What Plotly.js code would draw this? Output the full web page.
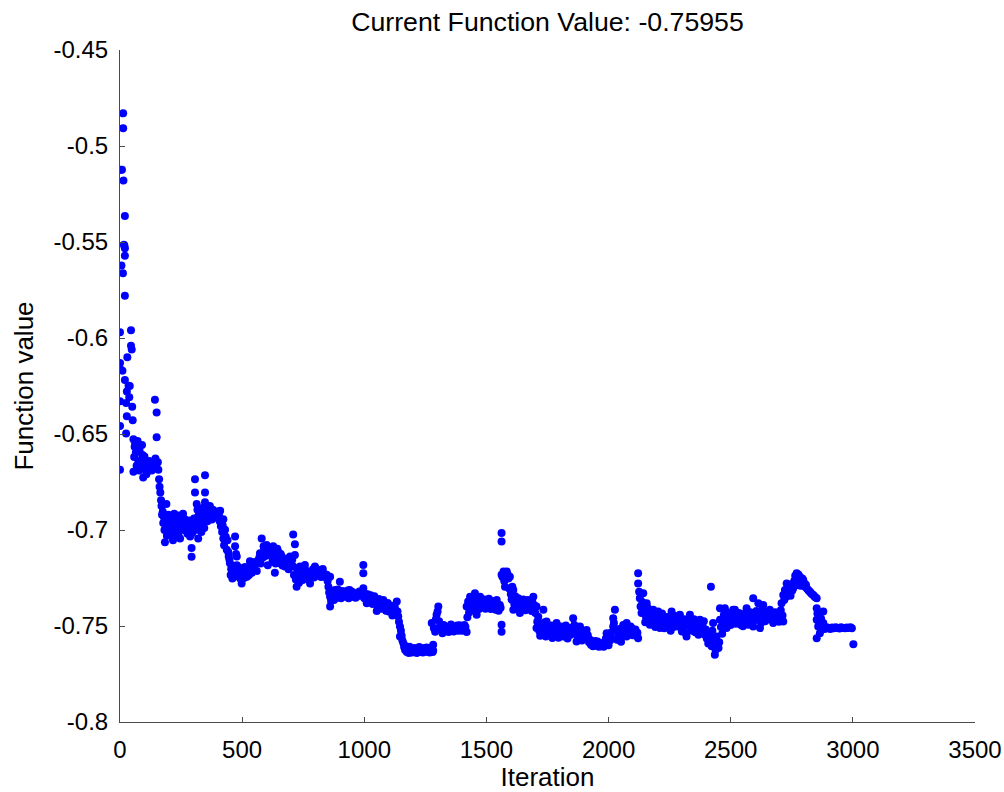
<!DOCTYPE html>
<html>
<head>
<meta charset="utf-8">
<script src="https://cdn.plot.ly/plotly-3.0.1.min.js"></script>
<style>
  html, body { margin: 0; padding: 0; background: #fff; }
  #chart { width: 1004px; height: 792px; }
</style>
</head>
<body>
<div id="chart"></div>
<script>
// Optimizer trace: objective value recorded at each iteration.
// Both arrays are laid out ten samples per row so rows line up one to one.
const iterations = [
  0, 0, 0, 0, 0, 0, 3, 6, 8, 10,
  12, 13, 13, 14, 16, 18, 20, 20, 20, 20,
  20, 25, 25, 28, 28, 30, 35, 38, 40, 45,
  45, 48, 50, 52, 55, 55, 58, 60, 62, 65,
  68, 72, 75, 78, 80, 85, 88, 90, 92, 95,
  98, 100, 103, 105, 108, 110, 113, 116, 120, 125,
  130, 136, 140, 143, 145, 150, 150, 155, 157, 160,
  162, 165, 168, 170, 172, 175, 177, 180, 182, 184,
  186, 190, 192, 195, 198, 200, 203, 205, 208, 210,
  213, 217, 220, 222, 225, 228, 232, 235, 238, 240,
  243, 246, 250, 253, 258, 262, 265, 268, 273, 276,
  280, 283, 287, 290, 293, 293, 296, 300, 303, 307,
  307, 310, 314, 314, 317, 320, 320, 324, 327, 330,
  333, 335, 338, 340, 343, 345, 348, 348, 348, 351,
  355, 358, 362, 365, 368, 372, 376, 380, 384, 388,
  392, 396, 400, 405, 408, 410, 413, 415, 418, 420,
  423, 423, 426, 430, 433, 437, 440, 443, 445, 448,
  450, 453, 455, 458, 460, 463, 465, 468, 471, 471,
  475, 478, 478, 482, 485, 488, 490, 494, 498, 502,
  505, 508, 512, 516, 520, 524, 528, 532, 536, 540,
  545, 550, 555, 560, 565, 570, 573, 576, 580, 585,
  588, 590, 595, 600, 603, 605, 610, 615, 620, 624,
  627, 630, 634, 637, 640, 644, 648, 652, 655, 658,
  662, 665, 670, 675, 680, 685, 690, 696, 700, 705,
  709, 709, 712, 716, 716, 720, 723, 726, 730, 733,
  737, 741, 745, 748, 750, 754, 757, 761, 765, 770,
  774, 778, 782, 785, 790, 794, 798, 802, 805, 810,
  815, 819, 823, 827, 830, 835, 840, 846, 850, 853,
  856, 860, 860, 860, 864, 868, 872, 876, 880, 884,
  888, 892, 896, 900, 900, 905, 910, 915, 920, 925,
  928, 932, 936, 940, 945, 950, 955, 960, 965, 970,
  975, 980, 984, 988, 992, 996, 996, 996, 1000, 1005,
  1010, 1014, 1018, 1022, 1026, 1030, 1034, 1037, 1041, 1045,
  1048, 1051, 1055, 1060, 1065, 1070, 1074, 1078, 1082, 1085,
  1089, 1092, 1096, 1100, 1105, 1110, 1115, 1119, 1122, 1125,
  1129, 1133, 1136, 1139, 1142, 1146, 1146, 1150, 1153, 1156,
  1160, 1163, 1167, 1170, 1174, 1178, 1182, 1185, 1190, 1195,
  1200, 1205, 1210, 1215, 1220, 1225, 1230, 1235, 1240, 1245,
  1250, 1255, 1260, 1264, 1268, 1272, 1276, 1280, 1282, 1282,
  1276, 1285, 1290, 1293, 1296, 1300, 1303, 1306, 1310, 1315,
  1320, 1325, 1330, 1335, 1340, 1345, 1350, 1355, 1360, 1366,
  1370, 1375, 1380, 1385, 1390, 1396, 1400, 1405, 1410, 1414,
  1419, 1419, 1422, 1425, 1429, 1433, 1437, 1440, 1444, 1448,
  1453, 1456, 1460, 1463, 1466, 1470, 1474, 1477, 1480, 1484,
  1487, 1492, 1496, 1500, 1505, 1510, 1514, 1518, 1522, 1525,
  1530, 1534, 1538, 1542, 1546, 1550, 1555, 1558, 1562, 1562,
  1562, 1562, 1562, 1566, 1570, 1573, 1576, 1580, 1583, 1586,
  1590, 1593, 1596, 1600, 1603, 1606, 1610, 1610, 1614, 1618,
  1622, 1625, 1630, 1634, 1637, 1641, 1645, 1651, 1655, 1660,
  1665, 1670, 1675, 1680, 1685, 1688, 1692, 1696, 1700, 1705,
  1705, 1708, 1712, 1716, 1720, 1724, 1728, 1733, 1736, 1740,
  1743, 1746, 1750, 1755, 1760, 1765, 1770, 1775, 1780, 1784,
  1787, 1791, 1795, 1800, 1805, 1810, 1815, 1820, 1825, 1828,
  1832, 1836, 1840, 1845, 1850, 1855, 1860, 1865, 1869, 1874,
  1878, 1883, 1887, 1891, 1895, 1900, 1905, 1910, 1915, 1920,
  1924, 1928, 1932, 1936, 1940, 1945, 1950, 1955, 1960, 1965,
  1970, 1975, 1980, 1985, 1989, 1992, 1996, 2000, 2003, 2006,
  2010, 2014, 2019, 2019, 2022, 2026, 2030, 2035, 2040, 2044,
  2047, 2051, 2055, 2060, 2065, 2070, 2074, 2074, 2078, 2082,
  2085, 2090, 2094, 2098, 2102, 2105, 2110, 2114, 2118, 2121,
  2121, 2121, 2125, 2128, 2131, 2135, 2138, 2142, 2146, 2150,
  2153, 2156, 2160, 2165, 2169, 2172, 2175, 2179, 2183, 2187,
  2191, 2195, 2199, 2203, 2206, 2210, 2215, 2219, 2223, 2228,
  2232, 2235, 2240, 2245, 2250, 2254, 2258, 2262, 2266, 2270,
  2275, 2280, 2284, 2288, 2292, 2296, 2300, 2305, 2310, 2315,
  2319, 2323, 2328, 2333, 2337, 2341, 2345, 2350, 2355, 2360,
  2364, 2368, 2374, 2378, 2382, 2385, 2390, 2394, 2398, 2402,
  2405, 2408, 2412, 2415, 2419, 2422, 2425, 2428, 2432, 2435,
  2435, 2438, 2442, 2446, 2450, 2453, 2456, 2456, 2460, 2465,
  2468, 2472, 2476, 2480, 2483, 2487, 2491, 2495, 2500, 2505,
  2510, 2514, 2517, 2521, 2525, 2530, 2534, 2538, 2542, 2546,
  2550, 2554, 2558, 2562, 2565, 2569, 2572, 2576, 2580, 2585,
  2588, 2592, 2592, 2596, 2600, 2605, 2609, 2613, 2617, 2620,
  2624, 2628, 2633, 2637, 2641, 2645, 2650, 2655, 2660, 2665,
  2670, 2674, 2678, 2682, 2685, 2690, 2694, 2698, 2702, 2705,
  2708, 2712, 2715, 2715, 2719, 2722, 2725, 2729, 2732, 2735,
  2739, 2742, 2745, 2749, 2752, 2756, 2760, 2764, 2767, 2770,
  2774, 2777, 2780, 2783, 2786, 2790, 2793, 2797, 2800, 2804,
  2808, 2812, 2817, 2821, 2825, 2829, 2833, 2838, 2842, 2846,
  2852, 2852, 2852, 2852, 2855, 2858, 2862, 2865, 2865, 2870,
  2875, 2879, 2879, 2885, 2893, 2900, 2908, 2915, 2922, 2930,
  2938, 2945, 2952, 2960, 2968, 2975, 2982, 2990, 2996, 3002
];

const functionValues = [
  -0.6686, -0.6458, -0.6329, -0.616, -0.613, -0.597, -0.5124, -0.5623, -0.5124, -0.617,
  -0.5663, -0.483, -0.4907, -0.518, -0.5514, -0.552, -0.5365, -0.5571, -0.578, -0.5533,
  -0.6219, -0.6497, -0.6338, -0.6279, -0.6408, -0.61, -0.6249, -0.6308, -0.625, -0.596,
  -0.604, -0.606, -0.6358, -0.6428, -0.6527, -0.6696, -0.662, -0.6567, -0.655, -0.6597,
  -0.6666, -0.6537, -0.664, -0.669, -0.6587, -0.6636, -0.667, -0.6557, -0.661, -0.6726,
  -0.668, -0.6617, -0.665, -0.6686, -0.671, -0.6656, -0.666, -0.6686, -0.664, -0.6666,
  -0.669, -0.6656, -0.666, -0.6322, -0.6627, -0.6388, -0.6517, -0.6647, -0.6686, -0.6736,
  -0.6775, -0.6805, -0.6845, -0.6875, -0.692, -0.6904, -0.6964, -0.6934, -0.700, -0.7064,
  -0.695, -0.6865, -0.703, -0.6995, -0.692, -0.6954, -0.699, -0.7014, -0.6935, -0.6974,
  -0.702, -0.7054, -0.6955, -0.6915, -0.6994, -0.7035, -0.6954, -0.7005, -0.6925, -0.7014,
  -0.697, -0.7044, -0.6985, -0.694, -0.6915, -0.700, -0.6944, -0.6985, -0.6964, -0.702,
  -0.6984, -0.695, -0.7034, -0.699, -0.7094, -0.7139, -0.7015, -0.6974, -0.694, -0.6736,
  -0.6805, -0.697, -0.6865, -0.6999, -0.6895, -0.6929, -0.7044, -0.698, -0.6964, -0.6905,
  -0.701, -0.6924, -0.6965, -0.6884, -0.694, -0.699, -0.6715, -0.6805, -0.6855, -0.690,
  -0.6914, -0.6955, -0.689, -0.693, -0.6875, -0.6915, -0.6945, -0.6895, -0.693, -0.6905,
  -0.6935, -0.6904, -0.6925, -0.6925, -0.6955, -0.69, -0.698, -0.6954, -0.701, -0.6975,
  -0.6944, -0.7044, -0.708, -0.6999, -0.7035, -0.7103, -0.7054, -0.7115, -0.7138, -0.7155,
  -0.7173, -0.7235, -0.7203, -0.7185, -0.7253, -0.7205, -0.7223, -0.719, -0.7034, -0.7084,
  -0.7125, -0.7138, -0.7183, -0.7215, -0.7243, -0.7195, -0.7203, -0.7255, -0.7278, -0.722,
  -0.7223, -0.725, -0.7193, -0.7225, -0.7243, -0.7205, -0.7235, -0.7163, -0.7195, -0.7223,
  -0.7185, -0.7193, -0.7165, -0.7213, -0.716, -0.7145, -0.7121, -0.7175, -0.7044, -0.7143,
  -0.7085, -0.7103, -0.7135, -0.7078, -0.7115, -0.7183, -0.711, -0.7133, -0.7095, -0.7165,
  -0.7084, -0.7125, -0.7223, -0.7175, -0.7143, -0.7098, -0.7113, -0.715, -0.7173, -0.7125,
  -0.7138, -0.7185, -0.716, -0.719, -0.715, -0.7163, -0.7205, -0.7138, -0.7175, -0.7155,
  -0.7024, -0.719, -0.7235, -0.7074, -0.713, -0.7258, -0.7295, -0.7205, -0.7243, -0.7275,
  -0.719, -0.7225, -0.7203, -0.726, -0.7225, -0.7245, -0.7182, -0.7235, -0.7213, -0.7255,
  -0.722, -0.7278, -0.7245, -0.7223, -0.7205, -0.7248, -0.719, -0.7228, -0.7203, -0.7238,
  -0.7215, -0.7225, -0.7245, -0.7218, -0.7203, -0.7228, -0.7245, -0.7233, -0.7265, -0.7295,
  -0.7325, -0.7243, -0.7348, -0.7399, -0.737, -0.7323, -0.7345, -0.7365, -0.7313, -0.7338,
  -0.7353, -0.731, -0.7338, -0.7269, -0.733, -0.7355, -0.7318, -0.7343, -0.7325, -0.7348,
  -0.733, -0.7315, -0.7355, -0.7313, -0.7338, -0.7322, -0.733, -0.735, -0.7353, -0.7328,
  -0.7342, -0.732, -0.733, -0.7343, -0.7335, -0.7182, -0.7225, -0.7304, -0.7355, -0.7333,
  -0.7382, -0.7335, -0.7348, -0.7375, -0.734, -0.7353, -0.7385, -0.7364, -0.7345, -0.7382,
  -0.7365, -0.7422, -0.7398, -0.736, -0.7372, -0.741, -0.7385, -0.7364, -0.7405, -0.7382,
  -0.742, -0.7399, -0.738, -0.7425, -0.7412, -0.7395, -0.7445, -0.7434, -0.7415, -0.7402,
  -0.7438, -0.7372, -0.7425, -0.7451, -0.7478, -0.7503, -0.7555, -0.7525, -0.7551, -0.7575,
  -0.759, -0.761, -0.7625, -0.7605, -0.7635, -0.762, -0.764, -0.7608, -0.7628, -0.7638,
  -0.762, -0.7615, -0.7632, -0.764, -0.7622, -0.761, -0.7636, -0.7625, -0.7638, -0.7615,
  -0.763, -0.7612, -0.7635, -0.7622, -0.7638, -0.763, -0.7615, -0.7635, -0.7628, -0.7598,
  -0.7485, -0.7512, -0.753, -0.7465, -0.7442, -0.7425, -0.7399, -0.7475, -0.7501, -0.7518,
  -0.7538, -0.7495, -0.7511, -0.7525, -0.7505, -0.7531, -0.7515, -0.7492, -0.7506, -0.7528,
  -0.7508, -0.7521, -0.7498, -0.7525, -0.7496, -0.751, -0.7525, -0.7516, -0.7495, -0.7505,
  -0.7399, -0.7531, -0.7455, -0.7372, -0.743, -0.7348, -0.7385, -0.7402, -0.7358, -0.7415,
  -0.733, -0.7375, -0.7442, -0.7352, -0.7382, -0.7412, -0.7348, -0.7395, -0.7392, -0.7365,
  -0.739, -0.7362, -0.741, -0.7372, -0.7395, -0.7358, -0.7382, -0.7412, -0.737, -0.7402,
  -0.7377, -0.7395, -0.7415, -0.7364, -0.7385, -0.742, -0.739, -0.7405, -0.7016, -0.706,
  -0.7233, -0.7494, -0.753, -0.7245, -0.7216, -0.7265, -0.7295, -0.724, -0.7216, -0.7228,
  -0.7253, -0.7305, -0.7243, -0.7335, -0.7362, -0.7295, -0.7313, -0.7416, -0.7385, -0.7345,
  -0.7405, -0.7372, -0.7355, -0.7398, -0.7432, -0.739, -0.7368, -0.7362, -0.7395, -0.7418,
  -0.7392, -0.7365, -0.7405, -0.7382, -0.7422, -0.7375, -0.7348, -0.7392, -0.7432, -0.7399,
  -0.7511, -0.7478, -0.7452, -0.7525, -0.7551, -0.749, -0.7535, -0.7416, -0.7482, -0.7521,
  -0.7555, -0.7477, -0.7508, -0.7532, -0.7541, -0.7498, -0.7562, -0.7501, -0.7528, -0.7548,
  -0.7485, -0.7515, -0.7561, -0.7532, -0.7502, -0.7521, -0.7555, -0.7525, -0.7498, -0.7541,
  -0.7565, -0.7518, -0.7511, -0.7545, -0.7528, -0.746, -0.7495, -0.7535, -0.7581, -0.7552,
  -0.7515, -0.7503, -0.7542, -0.7575, -0.7551, -0.7528, -0.7562, -0.7521, -0.7548, -0.7585,
  -0.7571, -0.7598, -0.7585, -0.7605, -0.7596, -0.7578, -0.7602, -0.7581, -0.7608, -0.7592,
  -0.7605, -0.7588, -0.7608, -0.7591, -0.7565, -0.7538, -0.7582, -0.76, -0.7555, -0.7576,
  -0.7535, -0.7565, -0.7503, -0.746, -0.7485, -0.7416, -0.7522, -0.7571, -0.754, -0.7515,
  -0.7555, -0.7582, -0.7521, -0.7495, -0.7551, -0.7525, -0.7485, -0.7555, -0.7512, -0.7538,
  -0.7531, -0.7502, -0.7511, -0.7548, -0.7525, -0.7541, -0.7518, -0.7552, -0.7535, -0.7564,
  -0.7225, -0.7278, -0.7322, -0.7355, -0.7398, -0.7432, -0.7375, -0.733, -0.7415, -0.7481,
  -0.7452, -0.7382, -0.7405, -0.7438, -0.7494, -0.7465, -0.7442, -0.7475, -0.7416, -0.7448,
  -0.7505, -0.7471, -0.7438, -0.7425, -0.7482, -0.7511, -0.7468, -0.7435, -0.7471, -0.7512,
  -0.7485, -0.7501, -0.7455, -0.7452, -0.7495, -0.7525, -0.7425, -0.7468, -0.7505, -0.7491,
  -0.7448, -0.7461, -0.7502, -0.7475, -0.7442, -0.7488, -0.7528, -0.7511, -0.7465, -0.7535,
  -0.7555, -0.7498, -0.747, -0.7442, -0.7485, -0.7525, -0.7491, -0.7465, -0.7532, -0.7511,
  -0.7478, -0.7545, -0.7467, -0.7495, -0.7525, -0.7501, -0.7475, -0.7546, -0.7518, -0.7565,
  -0.7535, -0.7591, -0.7575, -0.7552, -0.7295, -0.7605, -0.7525, -0.7485, -0.7572, -0.7591,
  -0.765, -0.7625, -0.7555, -0.7612, -0.7615, -0.7585, -0.7408, -0.7468, -0.7505, -0.7541,
  -0.7475, -0.7442, -0.7408, -0.7458, -0.7511, -0.7485, -0.7432, -0.7461, -0.7495, -0.7448,
  -0.7416, -0.7465, -0.7416, -0.7488, -0.7452, -0.7471, -0.7432, -0.7452, -0.7495, -0.7465,
  -0.7501, -0.7472, -0.7435, -0.7455, -0.7408, -0.7448, -0.7494, -0.7465, -0.7428, -0.7452,
  -0.7485, -0.7355, -0.7503, -0.7472, -0.7435, -0.7422, -0.7465, -0.7382, -0.7445, -0.7511,
  -0.7485, -0.7415, -0.739, -0.7432, -0.7475, -0.7461, -0.7425, -0.7452, -0.7416, -0.7468,
  -0.7445, -0.7485, -0.7462, -0.7428, -0.7432, -0.7465, -0.7442, -0.7478, -0.7455, -0.7418,
  -0.7381, -0.7445, -0.7477, -0.7338, -0.7365, -0.7312, -0.735, -0.7278, -0.7305, -0.732,
  -0.7295, -0.7325, -0.7343, -0.7282, -0.7315, -0.7303, -0.7265, -0.7238, -0.7288, -0.7225,
  -0.7255, -0.7232, -0.7272, -0.7243, -0.729, -0.7283, -0.7252, -0.726, -0.7275, -0.7295,
  -0.7285, -0.7305, -0.7313, -0.7318, -0.7323, -0.733, -0.7335, -0.7338, -0.7345, -0.735,
  -0.7355, -0.7408, -0.7468, -0.7564, -0.7435, -0.7503, -0.748, -0.7434, -0.7538, -0.7462,
  -0.7498, -0.7425, -0.7485, -0.7515, -0.7506, -0.7512, -0.7516, -0.7508, -0.7512, -0.7506,
  -0.751, -0.7513, -0.7506, -0.751, -0.7512, -0.7508, -0.751, -0.7506, -0.7512, -0.75955
];

// The last recorded objective value is the one reported in the title.
const currentValue = functionValues[functionValues.length - 1];

const xTickVals = [0, 500, 1000, 1500, 2000, 2500, 3000, 3500];
const xTickText = ['0', '500', '1000', '1500', '2000', '2500', '3000', '3500'];
const yTickVals = [-0.8, -0.75, -0.7, -0.65, -0.6, -0.55, -0.5, -0.45];
const yTickText = ['-0.8', '-0.75', '-0.7', '-0.65', '-0.6', '-0.55', '-0.5', '-0.45'];

const FONT = 'Liberation Sans, Arial, Helvetica, sans-serif';
const AXIS_COLOR = '#4a4a4a';

const trace = {
  type: 'scatter',
  mode: 'markers',
  x: iterations,
  y: functionValues,
  marker: { color: '#0000ff', size: 8, line: { width: 0 } },
  hoverinfo: 'x+y'
};

const axisCommon = {
  showgrid: false,
  zeroline: false,
  showline: true,
  linecolor: AXIS_COLOR,
  linewidth: 1,
  mirror: false,
  ticks: 'inside',
  ticklen: 5,
  tickwidth: 1,
  tickcolor: AXIS_COLOR,
  tickmode: 'array',
  tickfont: { family: FONT, size: 24, color: '#000' }
};

const layout = {
  width: 1004,
  height: 792,
  paper_bgcolor: '#ffffff',
  plot_bgcolor: '#ffffff',
  margin: { l: 120, r: 29, t: 50, b: 70, pad: 0 },
  showlegend: false,
  title: {
    text: 'Current Function Value: ' + currentValue,
    font: { family: FONT, size: 26.7, color: '#000' },
    x: 0.5,
    xref: 'paper',
    xanchor: 'center',
    y: 1 - 22 / 792,
    yref: 'container',
    yanchor: 'middle'
  },
  xaxis: Object.assign({}, axisCommon, {
    range: [0, 3500],
    tickvals: xTickVals,
    ticktext: xTickText,
    ticklabelstandoff: 6,
    title: { text: 'Iteration', font: { family: FONT, size: 26, color: '#000' }, standoff: 4 }
  }),
  yaxis: Object.assign({}, axisCommon, {
    range: [-0.8, -0.45],
    tickvals: yTickVals,
    ticktext: yTickText,
    ticklabelstandoff: 6,
    title: { text: 'Function value', font: { family: FONT, size: 26, color: '#000' }, standoff: 12 }
  })
};

Plotly.newPlot('chart', [trace], layout, { displayModeBar: false, staticPlot: true });
</script>
</body>
</html>
